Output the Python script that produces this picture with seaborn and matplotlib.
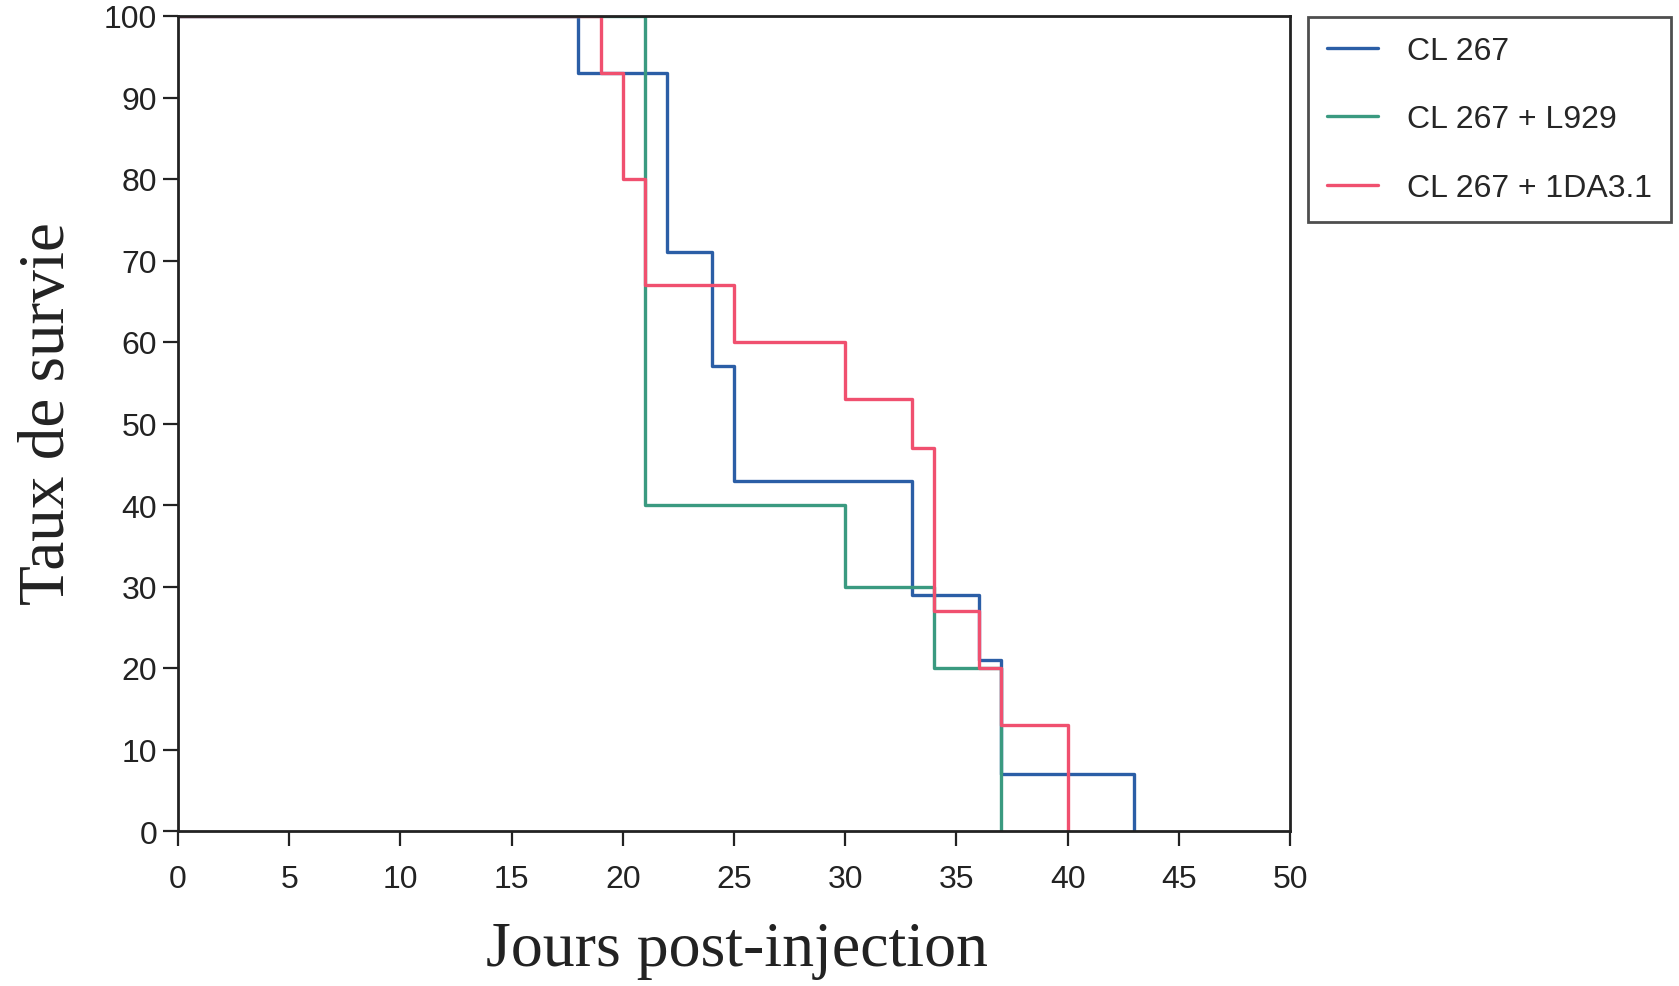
import numpy as np
import pandas as pd
import matplotlib
matplotlib.use("Agg")
import matplotlib.pyplot as plt
import seaborn as sns

# survival steps (day of change, % surviving from that day)
days_cl267 = [0, 18, 22, 24, 25, 33, 36, 37, 43]
surv_cl267 = [100, 93, 71, 57, 43, 29, 21, 7, 0]

days_l929 = [0, 21, 30, 34, 37]
surv_l929 = [100, 40, 30, 20, 0]

days_1da = [0, 19, 20, 21, 25, 30, 33, 34, 36, 37, 40]
surv_1da = [100, 93, 80, 67, 60, 53, 47, 27, 20, 13, 0]

labels = ["CL 267", "CL 267 + L929", "CL 267 + 1DA3.1"]
colors = ["#2b5ea6", "#3a9a80", "#f0506f"]

df = pd.concat([
    pd.DataFrame({"jours": days_cl267, "survie": surv_cl267, "groupe": labels[0]}),
    pd.DataFrame({"jours": days_l929, "survie": surv_l929, "groupe": labels[1]}),
    pd.DataFrame({"jours": days_1da, "survie": surv_1da, "groupe": labels[2]}),
], ignore_index=True)

sns.set_style("white")
plt.rcParams["font.family"] = ["Liberation Sans", "DejaVu Sans"]

fig = plt.figure(figsize=(16.79, 9.87), dpi=100)
ax = fig.add_axes([178 / 1679, 1 - 832 / 987, 1112 / 1679, 815 / 987])

sns.lineplot(data=df, x="jours", y="survie", hue="groupe", palette=colors,
             hue_order=labels, estimator=None, drawstyle="steps-post",
             linewidth=2.4, ax=ax, legend=False)

ax.set_xlim(0, 50)
ax.set_ylim(0, 100)
ax.set_xticks(np.arange(0, 51, 5))
ax.set_yticks(np.arange(0, 101, 10))
ax.tick_params(direction="out", length=11, width=1.6, labelsize=23,
               bottom=True, left=True, colors="#222222")
ax.tick_params(axis="x", pad=13)
ax.tick_params(axis="y", pad=4)
for s in ax.spines.values():
    s.set_visible(True)
    s.set_color("#222222")
    s.set_linewidth(2)

ax.set_xlabel("Jours post-injection", family=["Liberation Serif", "DejaVu Serif"],
              fontsize=46, color="#222222")
ax.set_ylabel("Taux de survie", family=["Liberation Serif", "DejaVu Serif"],
              fontsize=47, color="#222222")
ax.xaxis.set_label_coords(0.503, -0.11)
ax.yaxis.set_label_coords(-0.09, 0.513)

handles = [plt.Line2D([], [], color=c, linewidth=2.4) for c in colors]
leg = fig.legend(handles, labels, loc="upper left",
                 bbox_to_anchor=(1308 / 1679, 1 - 18 / 987), borderaxespad=0,
                 fontsize=23, frameon=True, fancybox=False, handlelength=1.6,
                 handletextpad=0.9, labelspacing=1.2, borderpad=0.6)
leg.get_frame().set_edgecolor("#222222")
leg.get_frame().set_linewidth(2)

fig.savefig("out.png", dpi=100)
